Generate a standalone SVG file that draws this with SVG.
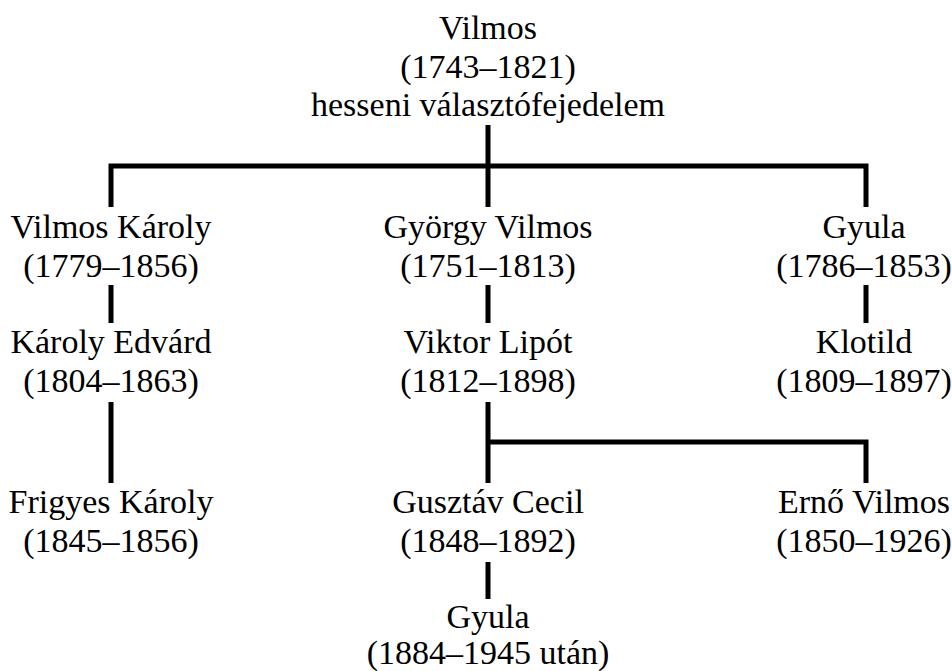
<svg xmlns="http://www.w3.org/2000/svg" width="952" height="671" viewBox="0 0 952 671">
<style>
text{font-family:"Liberation Serif","Times New Roman",serif;font-size:34px;fill:#000;text-anchor:middle}
.c{stroke:#000;stroke-width:5;fill:none;stroke-linecap:butt;stroke-linejoin:miter}
</style>
<rect width="952" height="671" fill="#fff"/>
<g id="connectors">
<path class="c" d="M488 125V207"/>
<path class="c" d="M111 207V166H866V207"/>
<path class="c" d="M111 285V323M488 285V323M866 285V323"/>
<path class="c" d="M111 402V483"/>
<path class="c" d="M488 402V483M488 442H866V483"/>
<path class="c" d="M488 562V599"/>
</g>
<g id="vilmos"><text x="488" y="39">Vilmos</text><text x="488" y="78">(1743–1821)</text><text x="488" y="116">hesseni választófejedelem</text></g>
<g id="vilmos-karoly"><text x="111" y="238">Vilmos Károly</text><text x="111" y="277">(1779–1856)</text></g>
<g id="gyorgy-vilmos"><text x="488" y="238">György Vilmos</text><text x="488" y="277">(1751–1813)</text></g>
<g id="gyula1"><text x="864" y="238">Gyula</text><text x="864" y="277">(1786–1853)</text></g>
<g id="karoly-edvard"><text x="111" y="353">Károly Edvárd</text><text x="111" y="392">(1804–1863)</text></g>
<g id="viktor-lipot"><text x="488" y="353">Viktor Lipót</text><text x="488" y="392">(1812–1898)</text></g>
<g id="klotild"><text x="864" y="353">Klotild</text><text x="864" y="392">(1809–1897)</text></g>
<g id="frigyes-karoly"><text x="111" y="513">Frigyes Károly</text><text x="111" y="552">(1845–1856)</text></g>
<g id="gusztav-cecil"><text x="488" y="513">Gusztáv Cecil</text><text x="488" y="552">(1848–1892)</text></g>
<g id="erno-vilmos"><text x="864" y="513">Ernő Vilmos</text><text x="864" y="552">(1850–1926)</text></g>
<g id="gyula2"><text x="488" y="628">Gyula</text><text x="488" y="664">(1884–1945 után)</text></g>
</svg>
